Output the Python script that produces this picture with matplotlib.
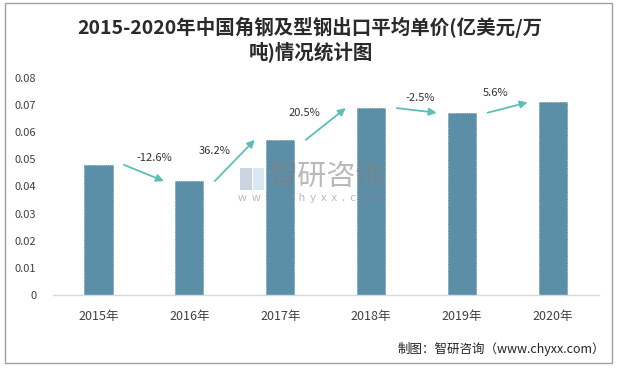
import matplotlib
matplotlib.use("Agg")
import matplotlib.pyplot as plt
from matplotlib.patches import Rectangle

plt.rcParams['font.family'] = ['Noto Sans CJK SC', 'DejaVu Sans']

years = ['2015年', '2016年', '2017年', '2018年', '2019年', '2020年']
prices = [0.0480, 0.0420, 0.0572, 0.0689, 0.0672, 0.0710]
growth = ['-12.6%', '36.2%', '20.5%', '-2.5%', '5.6%']
yticks = [0, 0.01, 0.02, 0.03, 0.04, 0.05, 0.06, 0.07, 0.08]
ytick_labels = ['0', '0.01', '0.02', '0.03', '0.04', '0.05', '0.06', '0.07', '0.08']

# label positions (x in category units, y in data units)
label_x = [0.62, 1.28, 2.26, 3.54, 4.37]
label_y = [0.0506, 0.0531, 0.0672, 0.0727, 0.0745]

bar_color = '#5B8FA8'
arrow_color = '#5CBFB6'
text_color = '#404040'

fig = plt.figure(figsize=(6.2, 3.69), dpi=100)
fig.patch.set_facecolor('white')

# outer border
fig.patches.append(Rectangle((5/620, 1-363/369), (612-5)/620, (363-3)/369,
                             transform=fig.transFigure, fill=False,
                             edgecolor='#A0A0A0', linewidth=1.0))

ax = fig.add_axes([53/620, 1-295/369, (598.5-53)/620, (295-78)/369])
x = list(range(len(years)))
ax.bar(x, prices, width=0.31, color=bar_color, edgecolor='#4A7C94',
       linewidth=0.6, linestyle=':', zorder=2)

ax.set_xlim(-0.5, len(years) - 0.5)
ax.set_ylim(0, 0.08)
ax.set_yticks(yticks)
ax.set_yticklabels(ytick_labels)
ax.set_xticks(x)
ax.set_xticklabels(years)
ax.tick_params(axis='y', length=0, pad=12, labelsize=8, labelcolor=text_color)
ax.tick_params(axis='x', length=0, pad=11, labelsize=9, labelcolor=text_color)
for s in ['top', 'right', 'left']:
    ax.spines[s].set_visible(False)
ax.spines['bottom'].set_color('#D9D9D9')
ax.spines['bottom'].set_linewidth(1.0)

# growth arrows
for i, g in enumerate(growth):
    ax.annotate('', xy=(i + 0.72, prices[i + 1]), xytext=(i + 0.28, prices[i]),
                arrowprops=dict(arrowstyle='-|>', color=arrow_color, lw=1.3,
                                mutation_scale=11, shrinkA=0, shrinkB=0),
                zorder=3)
    ax.text(label_x[i], label_y[i], g, ha='center', va='center',
            fontsize=8, color='#333333', zorder=4)

# watermark
fig.text(327/620, 1-177/369, '智研咨询', ha='center', va='center',
         fontsize=21, color='#808080', alpha=0.55, zorder=10)
fig.text(310/620, 1-198/369, 'w  w  w  .  c  h  y  x  x  .  c  o  m', ha='center',
         va='center', fontsize=8, color='#808080', alpha=0.55, zorder=10)
fig.patches.append(Rectangle((240/620, 1-190/369), 12/620, 22/369,
                             transform=fig.transFigure, fill=True,
                             facecolor='#A9B6CF', alpha=0.6, edgecolor='none', zorder=10))
fig.patches.append(Rectangle((253/620, 1-190/369), 11/620, 22/369,
                             transform=fig.transFigure, fill=True,
                             facecolor='#BFD9EE', alpha=0.6, edgecolor='none', zorder=10))

# title
fig.text(310/620, 1-27/369, '2015-2020年中国角钢及型钢出口平均单价(亿美元/万',
         ha='center', va='center', fontsize=14, fontweight='bold', color='#2a2a2a')
fig.text(311/620, 1-52/369, '吨)情况统计图',
         ha='center', va='center', fontsize=14, fontweight='bold', color='#2a2a2a')

# source
fig.text(605/620, 1-349/369, '制图：智研咨询（www.chyxx.com）', ha='right', va='center',
         fontsize=9, color='#222222')

fig.savefig('out.png', dpi=100)
